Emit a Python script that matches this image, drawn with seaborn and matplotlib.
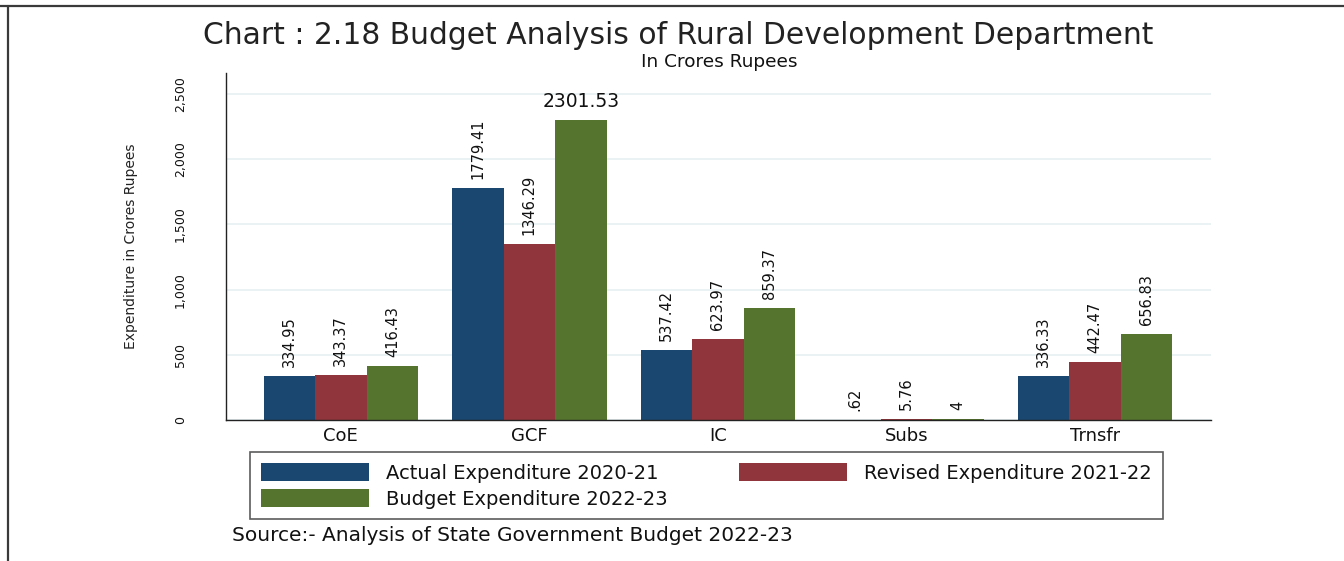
import matplotlib
matplotlib.use("Agg")
import matplotlib.pyplot as plt
from matplotlib.lines import Line2D
from matplotlib.patches import Patch
from matplotlib.ticker import FuncFormatter, MultipleLocator
import pandas as pd
import seaborn as sns

# Expenditure heads and the three budget series (Rs. crore)
categories = ["CoE", "GCF", "IC", "Subs", "Trnsfr"]
series_names = [
    "Actual Expenditure 2020-21",
    "Revised Expenditure 2021-22",
    "Budget Expenditure 2022-23",
]
actual_2020_21 = [334.95, 1779.41, 537.42, 0.62, 336.33]
revised_2021_22 = [343.37, 1346.29, 623.97, 5.76, 442.47]
budget_2022_23 = [416.43, 2301.53, 859.37, 4.0, 656.83]
series_colors = ["#1a476f", "#90353b", "#55752f"]

df = pd.DataFrame({
    "category": categories * 3,
    "series": [s for s in series_names for _ in categories],
    "value": actual_2020_21 + revised_2021_22 + budget_2022_23,
})

sns.set_theme(style="white")
plt.rcParams["font.family"] = ["DejaVu Sans"]

fig = plt.figure(figsize=(13.44, 5.61), dpi=100)
ax = fig.add_axes([0.168, 0.2513, 0.733, 0.6186])

sns.barplot(
    data=df, x="category", y="value", hue="series",
    order=categories, hue_order=series_names,
    palette=series_colors, saturation=1, width=0.82,
    linewidth=0, legend=False, ax=ax,
)

ax.set_xlim(-0.61, 4.615)
ax.set_ylim(0, 2661)
ax.yaxis.set_major_locator(MultipleLocator(500))
ax.yaxis.set_major_formatter(FuncFormatter(lambda v, _: f"{int(v):,}"))

ax.grid(axis="y", color="#eaf2f3", linewidth=1.4)
ax.set_axisbelow(True)
for side in ("top", "right"):
    ax.spines[side].set_visible(False)
for side in ("left", "bottom"):
    ax.spines[side].set_color("#222222")
    ax.spines[side].set_linewidth(1.0)

ax.tick_params(axis="y", length=8, width=0.8, color="#333333", pad=20,
               labelsize=9, labelrotation=90, labelcolor="#111111")
for lab in ax.get_yticklabels():
    lab.set_va("center")
ax.tick_params(axis="x", length=0, pad=5, labelsize=13, labelcolor="#111111")

ax.set_xlabel("")
ax.set_ylabel("Expenditure in Crores Rupees", fontsize=10, color="#222222",
              labelpad=26)


def fmt(v):
    s = f"{v:g}"
    if s.startswith("0."):
        s = s[1:]
    return s


all_values = [actual_2020_21, revised_2021_22, budget_2022_23]
ymax = ax.get_ylim()[1]
for container, vals in zip(ax.containers, all_values):
    for bar, v in zip(container.patches, vals):
        xc = bar.get_x() + bar.get_width() / 2
        if v / ymax > 0.8:
            ax.annotate(fmt(v), xy=(xc, v), xytext=(0, 6.5),
                        textcoords="offset points", ha="center", va="bottom",
                        fontsize=13.5, color="#111111")
        else:
            ax.annotate(fmt(v), xy=(xc, v), xytext=(0, 6.5),
                        textcoords="offset points", ha="center", va="bottom",
                        rotation=90, fontsize=10.5, color="#111111")

# Titles
fig.text(0.5045, 0.9376, "Chart : 2.18 Budget Analysis of Rural Development Department",
         ha="center", va="center", fontsize=21.4, color="#222222")
fig.text(0.535, 0.8895, "In Crores Rupees", ha="center", va="center",
         fontsize=13.3, color="#111111")

# Legend (row-wise reading order across two columns)
handles = [Patch(facecolor=c, edgecolor="none") for c in series_colors]
order = [0, 2, 1]
leg = fig.legend(
    [handles[i] for i in order], [series_names[i] for i in order],
    loc="upper left", bbox_to_anchor=(250 / 1344, 1 - 452 / 561),
    ncol=2, fontsize=14, frameon=True, fancybox=False,
    handlelength=5.56, handleheight=1.08, handletextpad=0.87,
    columnspacing=3.7, labelspacing=0.32, borderpad=0.55,
    borderaxespad=0,
)
leg.get_frame().set_edgecolor("#333333")
leg.get_frame().set_linewidth(1.2)
for t in leg.get_texts():
    t.set_color("#111111")

fig.text(0.1726, 0.0446, "Source:- Analysis of State Government Budget 2022-23",
         ha="left", va="center", fontsize=14.5, color="#111111")

# Outer frame lines along the top and left edges
fig.add_artist(Line2D([0, 1], [1 - 6 / 561, 1 - 6 / 561], transform=fig.transFigure,
                      color="#3a3a3a", linewidth=1.6))
fig.add_artist(Line2D([8 / 1344, 8 / 1344], [0, 1 - 6 / 561], transform=fig.transFigure,
                      color="#3a3a3a", linewidth=1.6))

fig.savefig("out.png", dpi=100, facecolor="white")
